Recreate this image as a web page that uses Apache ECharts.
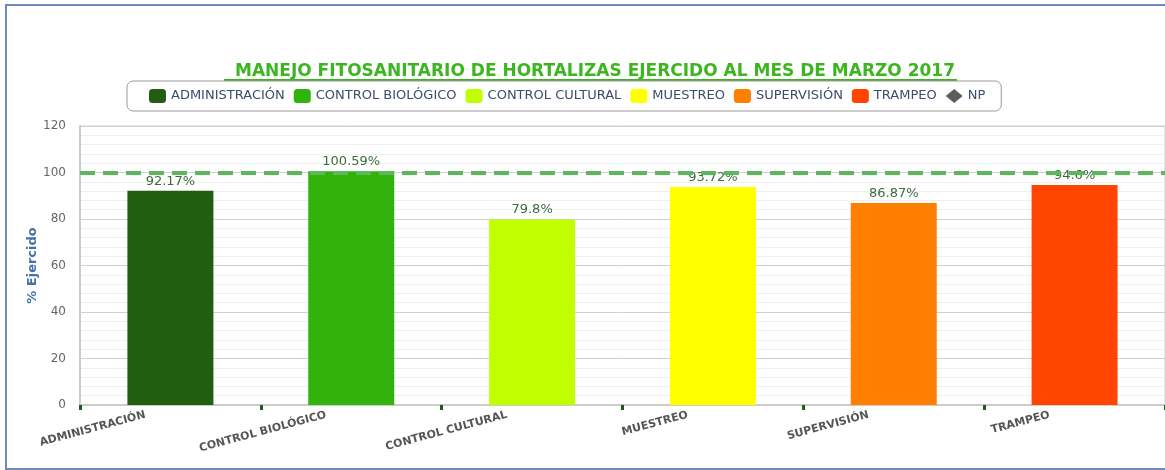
<!DOCTYPE html>
<html>
<head>
<meta charset="utf-8">
<script src="https://cdn.jsdelivr.net/npm/echarts@6/dist/echarts.min.js"></script>
<style>
html,body{margin:0;padding:0;overflow:hidden;background:#fff;}
#chart{position:absolute;left:0;top:0;width:1165px;height:470px;}
#frame{position:absolute;left:5px;top:4px;width:1200px;height:462px;border:2px solid #7089b8;pointer-events:none;}
</style>
</head>
<body>
<div id="chart"></div>
<div id="frame"></div>
<script>
var categories = ['ADMINISTRACIÓN', 'CONTROL BIOLÓGICO', 'CONTROL CULTURAL', 'MUESTREO', 'SUPERVISIÓN', 'TRAMPEO'];
var values = [92.17, 100.59, 79.8, 93.72, 86.87, 94.6];
var colors = ['#225e10', '#31b30b', '#bfff00', '#ffff00', '#ff8000', '#ff4500'];
var yTicks = [0, 20, 40, 60, 80, 100, 120];
var targetValue = 100;
var titleText = 'MANEJO FITOSANITARIO DE HORTALIZAS EJERCIDO AL MES DE MARZO 2017';

var FONT = 'DejaVu Sans';
var chart = echarts.init(document.getElementById('chart'));

var series = categories.map(function (name, i) {
  var d = categories.map(function (c, j) { return j === i ? values[i] : '-'; });
  var s = {
    name: name,
    type: 'bar',
    stack: 'all',
    barWidth: 86,
    data: d,
    itemStyle: { color: colors[i] },
    label: {
      show: true,
      position: 'top',
      distance: 3,
      formatter: function (p) { return p.value + '%'; },
      color: '#3d6b3d',
      fontFamily: FONT,
      fontSize: 13
    }
  };
  if (i === 0) {
    s.markLine = {
      silent: true,
      symbol: 'none',
      label: { show: false },
      lineStyle: { color: '#5cb85c', width: 4, type: [15, 8] },
      data: [{ yAxis: targetValue }]
    };
  }
  return s;
});
series.push({
  name: 'NP',
  type: 'scatter',
  symbol: 'diamond',
  itemStyle: { color: '#333333' },
  data: []
});

var legendData = categories.map(function (c) { return { name: c, icon: 'roundRect' }; });
legendData.push({ name: 'NP', icon: 'diamond' });

chart.setOption({
  animation: false,
  title: {
    text: titleText,
    left: 590,
    textAlign: 'center',
    top: 58,
    textStyle: { color: '#3cb521', fontFamily: FONT, fontWeight: 'bold', fontSize: 17 }
  },
  graphic: [{
    type: 'rect',
    shape: { x: 224, y: 79, width: 733, height: 2 },
    style: { fill: '#3cb521' },
    silent: true
  }],
  legend: {
    left: 127,
    top: 81,
    data: legendData,
    itemWidth: 17,
    itemHeight: 14,
    itemGap: 9,
    padding: [8, 16, 8, 22],
    borderColor: '#999',
    borderWidth: 1,
    borderRadius: 6,
    textStyle: { color: '#3b4d6b', fontFamily: FONT, fontSize: 13 }
  },
  grid: { left: 80, right: -4, top: 126, bottom: 65, show: true, borderColor: '#cccccc', borderWidth: 1 },
  xAxis: {
    type: 'category',
    data: categories,
    axisLine: { lineStyle: { color: '#cccccc', width: 2 } },
    axisTick: { show: true, length: 5, lineStyle: { color: '#1e5c1e', width: 3 } },
    axisLabel: {
      rotate: 15,
      margin: 3,
      padding: [0, 26, 0, 0],
      color: '#555555',
      fontFamily: FONT,
      fontWeight: 'bold',
      fontSize: 11
    }
  },
  yAxis: {
    type: 'value',
    min: yTicks[0],
    max: yTicks[yTicks.length - 1],
    interval: 20,
    name: '% Ejercido',
    nameLocation: 'middle',
    nameGap: 41,
    nameMoveOverlap: false,
    nameTextStyle: { color: '#4572a7', fontFamily: FONT, fontWeight: 'bold', fontSize: 13 },
    axisLine: { show: true, lineStyle: { color: '#cccccc', width: 2 } },
    axisLabel: { color: '#666666', fontFamily: FONT, fontSize: 12, margin: 14 },
    splitLine: { lineStyle: { color: '#d0d0d0' } },
    minorTick: { show: false, splitNumber: 5 },
    minorSplitLine: { show: true, lineStyle: { color: '#efefef' } }
  },
  series: series
});
</script>
</body>
</html>
